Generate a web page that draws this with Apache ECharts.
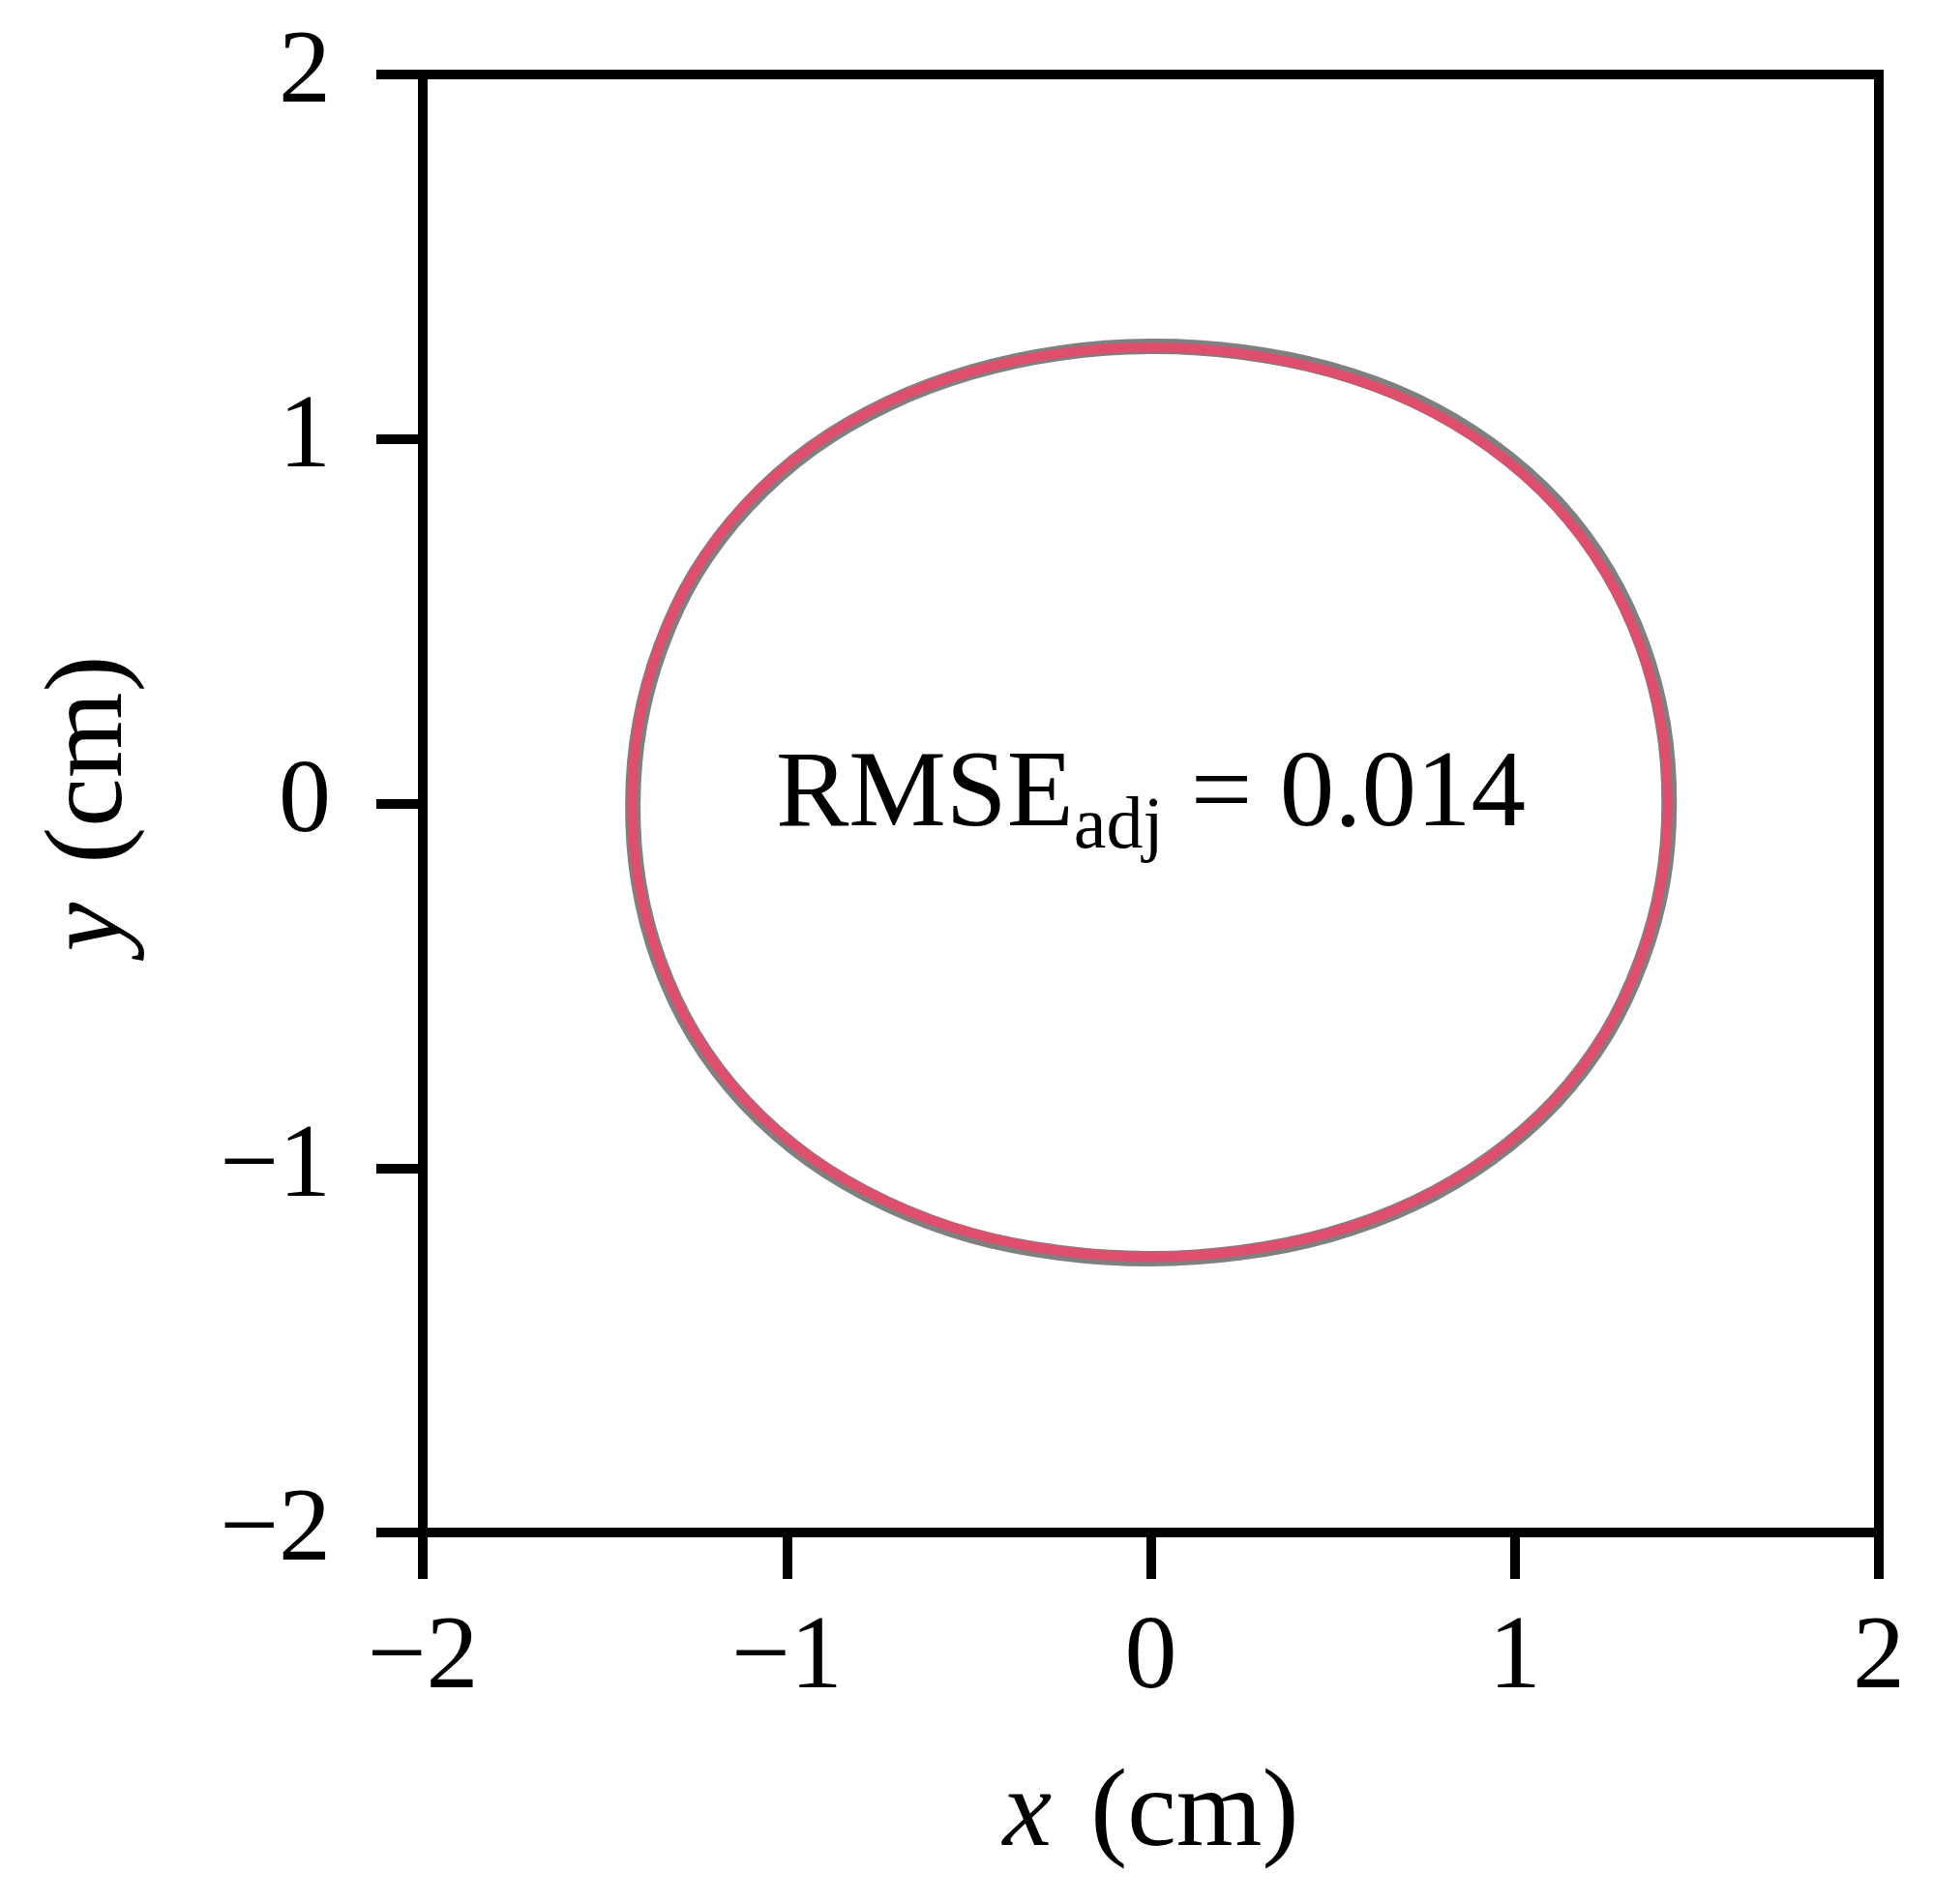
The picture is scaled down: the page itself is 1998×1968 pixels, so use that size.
<!DOCTYPE html>
<html>
<head>
<meta charset="utf-8">
<script src="https://cdn.jsdelivr.net/npm/echarts@6/dist/echarts.min.js"></script>
<style>
html,body{margin:0;padding:0;background:#fff;}
#chart{width:1998px;height:1968px;}
</style>
</head>
<body>
<div id="chart"></div>
<script>
// Axis ticks
const xTicks = [-2, -1, 0, 1, 2];
const yTicks = [-2, -1, 0, 1, 2];

// Measured contour (gray), read around the closed loop
const measuredX = [1.424, 1.407, 1.351, 1.254, 1.115, 0.935, 0.725, 0.492, 0.248, 0.000,
  -0.248, -0.491, -0.722, -0.932, -1.110, -1.250, -1.346, -1.404, -1.423,
  -1.407, -1.352, -1.256, -1.116, -0.937, -0.726, -0.493, -0.249, 0.000,
  0.248, 0.491, 0.723, 0.932, 1.111, 1.251, 1.348, 1.406];
const measuredY = [0.000, 0.219, 0.433, 0.638, 0.824, 0.982, 1.106, 1.191, 1.239, 1.254,
  1.236, 1.184, 1.097, 0.974, 0.816, 0.632, 0.430, 0.217, 0.000,
  -0.217, -0.430, -0.634, -0.819, -0.976, -1.098, -1.185, -1.233, -1.249,
  -1.232, -1.183, -1.097, -0.974, -0.818, -0.634, -0.430, -0.218];

// Fitted contour (red), closed loop
const fittedX = [1.420, 1.402, 1.345, 1.248, 1.109, 0.930, 0.721, 0.490, 0.247, 0.000,
  -0.248, -0.491, -0.723, -0.934, -1.113, -1.253, -1.350, -1.407, -1.425,
  -1.407, -1.350, -1.253, -1.113, -0.934, -0.723, -0.491, -0.248, 0.000,
  0.247, 0.490, 0.721, 0.930, 1.109, 1.248, 1.345, 1.402];
const fittedY = [0.000, 0.218, 0.431, 0.634, 0.819, 0.976, 1.099, 1.184, 1.234, 1.250,
  1.234, 1.184, 1.099, 0.976, 0.819, 0.634, 0.431, 0.218, 0.000,
  -0.217, -0.429, -0.632, -0.816, -0.972, -1.094, -1.180, -1.229, -1.245,
  -1.229, -1.180, -1.094, -0.972, -0.816, -0.632, -0.429, -0.217];

// Annotation
const annotationPos = [0, 0.02];
const annotationMain = 'RMSE';
const annotationSub = 'adj';
const annotationValue = ' = 0.014';

const FONT = 'Liberation Serif';
const fmt = v => (v < 0 ? '\u2212' + Math.abs(v) : String(v));
const pairs = (xs, ys) => xs.map((x, i) => [x, ys[i]]);

// closed smooth contour through the library's coordinate mapping
function contourSeries(name, xs, ys, color, width, z) {
  return {
    name: name, type: 'custom', coordinateSystem: 'cartesian2d',
    data: pairs(xs, ys), silent: true, z: z,
    renderItem: function (params, api) {
      if (params.dataIndex !== 0) return null;
      const pts = xs.map((x, i) => api.coord([x, ys[i]]));
      return {
        type: 'polygon',
        shape: {points: pts, smooth: 0.33},
        style: {fill: 'none', stroke: color, lineWidth: width, lineJoin: 'round'}
      };
    }
  };
}

const chart = echarts.init(document.getElementById('chart'), null, {renderer: 'canvas'});

const nameStyle = {
  fontFamily: FONT, fontSize: 114, color: '#000',
  rich: {
    i: {fontFamily: FONT, fontSize: 114, fontStyle: 'italic', color: '#000', padding: [0, 40, 0, 0]},
    n: {fontFamily: FONT, fontSize: 114, color: '#000'}
  }
};

chart.setOption({
  animation: false,
  backgroundColor: '#ffffff',
  grid: {
    left: 437, right: 56, top: 77, bottom: 384,
    show: true, borderColor: '#000', borderWidth: 10, backgroundColor: 'transparent',
    containLabel: false, outerBoundsMode: 'none'
  },
  xAxis: {
    type: 'value',
    min: xTicks[0], max: xTicks[xTicks.length - 1], interval: 1,
    splitLine: {show: false},
    axisLine: {show: true, onZero: false, lineStyle: {color: '#000', width: 10}},
    axisTick: {show: true, inside: false, length: 48, lineStyle: {color: '#000', width: 10}},
    axisLabel: {formatter: fmt, fontFamily: FONT, fontSize: 108, color: '#000', margin: 78},
    name: '{i|x}{n|(cm)}',
    nameLocation: 'middle',
    nameGap: 236,
    nameTextStyle: nameStyle
  },
  yAxis: {
    type: 'value',
    min: yTicks[0], max: yTicks[yTicks.length - 1], interval: 1,
    splitLine: {show: false},
    axisLine: {show: true, onZero: false, lineStyle: {color: '#000', width: 10}},
    axisTick: {show: true, inside: false, length: 48, lineStyle: {color: '#000', width: 10}},
    axisLabel: {formatter: fmt, fontFamily: FONT, fontSize: 108, color: '#000', margin: 95},
    name: '{i|y}{n|(cm)}',
    nameLocation: 'middle',
    nameGap: 285,
    nameRotate: 90,
    nameTextStyle: nameStyle
  },
  series: [
    contourSeries('measured', measuredX, measuredY, '#808080', 16, 2),
    contourSeries('fitted', fittedX, fittedY, '#DF4F6D', 10, 3),
    {
      name: 'annotation', type: 'scatter', data: [annotationPos],
      symbolSize: 0, itemStyle: {color: '#000', opacity: 1}, silent: true, z: 5,
      label: {
        show: true, position: [0, 0], align: 'center', verticalAlign: 'middle',
        color: '#000', textBorderWidth: 0, opacity: 1,
        formatter: '{m|' + annotationMain + '}{s|' + annotationSub + '}{m|' + annotationValue + '}',
        rich: {
          m: {fontFamily: FONT, fontSize: 113, color: '#000'},
          s: {fontFamily: FONT, fontSize: 76, color: '#000', padding: [66, 0, 0, 0]}
        }
      }
    }
  ]
});
</script>
</body>
</html>
